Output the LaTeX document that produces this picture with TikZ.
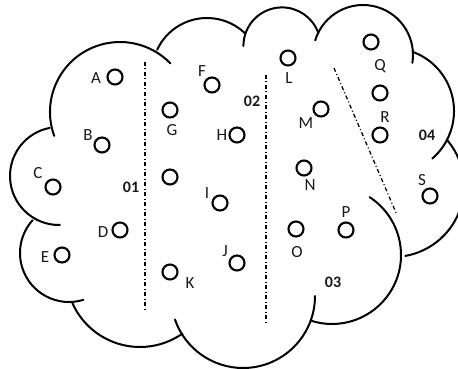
\documentclass[tikz,border=0pt]{standalone}
\usepackage{fontspec}
\setmainfont{Carlito}
\begin{document}
\begin{tikzpicture}[x=1pt,y=-1pt,
  cloud/.style={line width=2pt, line cap=round},
  pt/.style={circle, draw, line width=2.1pt, minimum size=15pt, inner sep=0pt},
  lbl/.style={font=\fontsize{17}{17}\selectfont, inner sep=0pt, text=black!90},
  num/.style={font=\fontsize{16}{16}\selectfont\bfseries, inner sep=0pt, text=black!90},
  divider/.style={line width=1.3pt, dash pattern=on 4pt off 2.5pt on 1pt off 2.5pt}]
\useasboundingbox (0,0) rectangle (458,369);
\fill[white] (0,0) rectangle (458,369);
\begin{scope}
\clip (0,0) rectangle (458,369);
% cloud outline
\draw[cloud] (120,112) ++(160:70) arc[start angle=160, end angle=316, radius=70];
\draw[cloud] (207,73) ++(205:55) arc[start angle=205, end angle=313.5, radius=55];
\draw[cloud] (282,46) ++(180:38.6) arc[start angle=180, end angle=340, radius=38.6];
\draw[cloud] (363,55) ++(197:50) arc[start angle=197, end angle=369, radius=50];
\draw[cloud] (391,111) ++(290:63) arc[start angle=290, end angle=409, radius=63];
\draw[cloud] (393,186) ++(319:71) arc[start angle=319, end angle=440, radius=71];
\draw[cloud] (332,255) ++(303:69) arc[start angle=303, end angle=468, radius=69];
\draw[cloud] (243,296) ++(0:72) arc[start angle=0, end angle=161, radius=72];
\draw[cloud] (140,273) ++(55:74) arc[start angle=55, end angle=157, radius=74];
\draw[cloud] (69,253) ++(73:49) arc[start angle=73, end angle=222, radius=49];
\draw[cloud] (59,176) ++(89:49) arc[start angle=89, end angle=259, radius=49];
\end{scope}
% dividers
\coordinate (d1a) at (145,62);
\coordinate (d1b) at (145,311);
\coordinate (d2a) at (266,75);
\coordinate (d2b) at (266,324);
\coordinate (d3a) at (334,68);
\coordinate (d3b) at (397,215);
\draw[divider] (d1a) -- (d1b);
\draw[divider] (d2a) -- (d2b);
\draw[divider] (d3a) -- (d3b);
% points
\node[pt] (cA) at (115,77) {};
\node[lbl] (lA) at (96,78) {A};
\node[pt] (cB) at (102,145) {};
\node[lbl] (lB) at (88,135) {B};
\node[pt] (cC) at (53,187) {};
\node[lbl] (lC) at (38,173) {C};
\node[pt] (cD) at (120,230) {};
\node[lbl] (lD) at (103,232) {D};
\node[pt] (cE) at (62,255) {};
\node[lbl] (lE) at (45,257) {E};
\node[pt] (cF) at (212,85) {};
\node[lbl] (lF) at (202,71) {F};
\node[pt] (cG) at (170,110) {};
\node[lbl] (lG) at (172,130) {G};
\node[pt] (cH) at (237,135) {};
\node[lbl] (lH) at (222,135) {H};
\node[pt] (cX) at (170,177) {};
\node[pt] (cI) at (220,203) {};
\node[lbl] (lI) at (207,193) {I};
\node[pt] (cJ) at (237,263) {};
\node[lbl] (lJ) at (225,251) {J};
\node[pt] (cK) at (170,272) {};
\node[lbl] (lK) at (190,283) {K};
\node[pt] (cL) at (288,58) {};
\node[lbl] (lL) at (289,78) {L};
\node[pt] (cM) at (321,109) {};
\node[lbl] (lM) at (306,123) {M};
\node[pt] (cN) at (304,168) {};
\node[lbl] (lN) at (310,185) {N};
\node[pt] (cO) at (296,229) {};
\node[lbl] (lO) at (297,252) {O};
\node[pt] (cP) at (346,230) {};
\node[lbl] (lP) at (346,212) {P};
\node[pt] (cQ) at (371,42) {};
\node[lbl] (lQ) at (380,66) {Q};
\node[pt] (cR1) at (380,93) {};
\node[lbl] (lR) at (385,117) {R};
\node[pt] (cR2) at (380,135) {};
\node[pt] (cS) at (430,196) {};
\node[lbl] (lS) at (422,180) {S};
% region numbers
\node[num] (n1) at (131,187) {01};
\node[num] (n2) at (252,101) {02};
\node[num] (n3) at (333,282) {03};
\node[num] (n4) at (427,135) {04};
\end{tikzpicture}
\end{document}
